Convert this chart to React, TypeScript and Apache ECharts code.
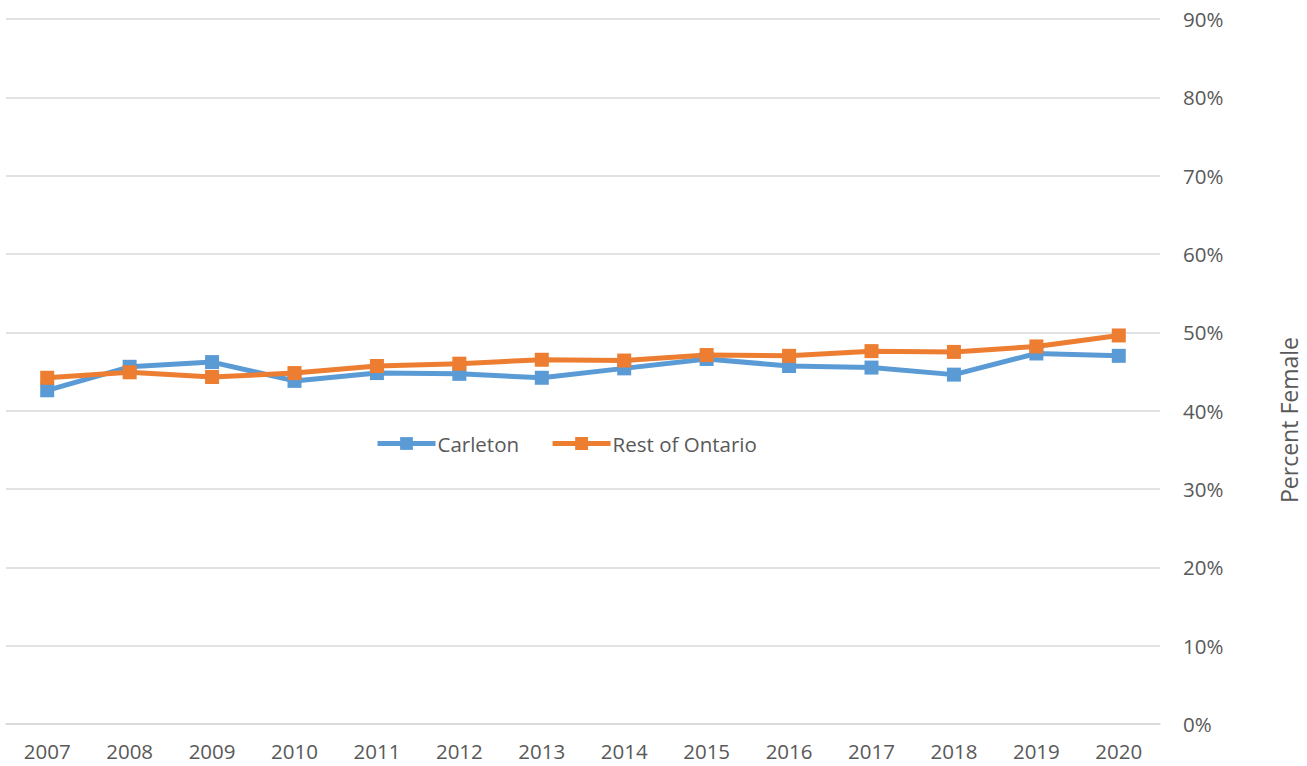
import React, { useEffect, useRef } from "react";
import * as echarts from "echarts";

const years = ["2007", "2008", "2009", "2010", "2011", "2012", "2013", "2014", "2015", "2016", "2017", "2018", "2019", "2020"];
const carleton = [42.6, 45.6, 46.2, 43.8, 44.8, 44.7, 44.2, 45.4, 46.6, 45.7, 45.5, 44.6, 47.3, 47.0];
const restOfOntario = [44.2, 44.9, 44.3, 44.8, 45.7, 46.0, 46.5, 46.4, 47.1, 47.0, 47.6, 47.5, 48.2, 49.6];
const yTicks = { min: 0, max: 90, interval: 10 };

const FONT = "'Open Sans', 'Noto Sans', sans-serif";
const TEXT = "#595959";

export default function App() {
  const ref = useRef<HTMLDivElement>(null);
  useEffect(() => {
    if (!ref.current) return;
    const chart = echarts.init(ref.current, undefined, { renderer: "svg" });
    chart.setOption({
      animation: false,
      backgroundColor: "#ffffff",
      textStyle: { fontFamily: FONT },
      grid: { left: 6, right: 147, top: 19, bottom: 42, containLabel: false },
      legend: {
        left: 375,
        top: 433,
        padding: 0,
        itemWidth: 58,
        itemHeight: 16,
        itemGap: 31,
        lineStyle: { width: 5 },
        textStyle: { fontSize: 20.5, color: TEXT, fontFamily: FONT, padding: [0, 0, 0, -3] },
        data: ["Carleton", "Rest of Ontario"],
      },
      xAxis: {
        type: "category",
        data: years,
        boundaryGap: true,
        axisLine: { show: true, lineStyle: { color: "#d9d9d9", width: 1.5 } },
        axisTick: { show: false },
        axisLabel: { color: TEXT, fontSize: 20.5, margin: 16, fontFamily: FONT },
      },
      yAxis: {
        type: "value",
        position: "right",
        min: yTicks.min,
        max: yTicks.max,
        interval: yTicks.interval,
        axisLine: { show: false },
        axisTick: { show: false },
        splitLine: { lineStyle: { color: "#d9d9d9", width: 1.5 } },
        axisLabel: { color: TEXT, fontSize: 20.5, margin: 23, formatter: "{value}%", fontFamily: FONT },
      },
      graphic: [
        {
          type: "text",
          x: 1289,
          y: 420,
          rotation: Math.PI / 2,
          style: {
            text: "Percent Female",
            fontSize: 23,
            fill: TEXT,
            fontFamily: FONT,
            textAlign: "center",
            textVerticalAlign: "middle",
          },
        },
      ],
      series: [
        {
          name: "Carleton",
          type: "line",
          data: carleton,
          symbol: "rect",
          symbolSize: 14,
          lineStyle: { color: "#5B9BD5", width: 5 },
          itemStyle: { color: "#5B9BD5" },
        },
        {
          name: "Rest of Ontario",
          type: "line",
          data: restOfOntario,
          symbol: "rect",
          symbolSize: 14,
          lineStyle: { color: "#ED7D31", width: 5 },
          itemStyle: { color: "#ED7D31" },
        },
      ],
    });
    return () => chart.dispose();
  }, []);
  return <div ref={ref} style={{ position: "absolute", left: 0, top: 0, width: 1307, height: 766 }} />;
}
